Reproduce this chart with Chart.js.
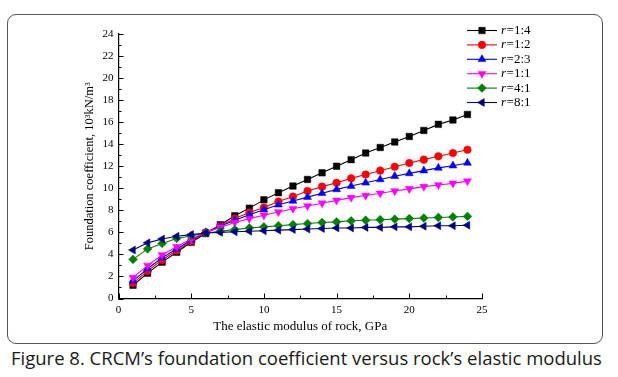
<!DOCTYPE html>
<html><head><meta charset="utf-8">
<script src="https://cdn.jsdelivr.net/npm/chart.js@4"></script>
<style>
html,body{margin:0;padding:0;background:#fff;width:618px;height:377px;overflow:hidden;}
#frame{position:absolute;left:7px;top:14px;width:594px;height:328px;border:1.5px solid #555;border-radius:9px;}
#wrap{position:absolute;left:0;top:0;width:618px;height:340px;}
#cap{position:absolute;left:11px;top:345px;font-family:"Open Sans";font-size:18.5px;color:#1a1a1a;white-space:nowrap;}
</style></head>
<body>
<div id="frame"></div>
<div id="wrap"><canvas id="c" width="618" height="340"></canvas></div>
<div id="cap">Figure 8. CRCM’s foundation coefficient versus rock’s elastic modulus</div>
<script>
const modulus = [1,2,3,4,5,6,7,8,9,10,11,12,13,14,15,16,17,18,19,20,21,22,23,24];
const r14 = [1.2,2.3,3.3,4.2,5.1,5.9,6.7,7.5,8.2,8.95,9.6,10.2,10.8,11.4,12.0,12.6,13.2,13.7,14.2,14.7,15.25,15.8,16.2,16.7];
const r12 = [1.4,2.5,3.5,4.35,5.2,6.0,6.6,7.25,7.8,8.25,8.8,9.25,9.75,10.15,10.5,10.9,11.25,11.6,11.95,12.3,12.6,12.9,13.2,13.5];
const r23 = [1.6,2.7,3.7,4.5,5.3,6.0,6.55,7.1,7.6,8.05,8.5,8.85,9.2,9.55,9.9,10.2,10.5,10.8,11.1,11.35,11.6,11.85,12.05,12.3];
const r11 = [1.9,3.0,3.95,4.7,5.4,6.0,6.45,6.9,7.25,7.55,7.85,8.15,8.4,8.65,8.9,9.15,9.35,9.55,9.75,9.95,10.15,10.3,10.45,10.65];
const r41 = [3.55,4.5,5.0,5.45,5.7,5.95,6.1,6.25,6.4,6.5,6.6,6.7,6.8,6.9,6.95,7.05,7.1,7.15,7.2,7.25,7.3,7.35,7.4,7.45];
const r81 = [4.4,5.05,5.4,5.65,5.8,5.95,6.0,6.05,6.1,6.15,6.2,6.25,6.3,6.35,6.4,6.4,6.45,6.45,6.5,6.5,6.55,6.6,6.6,6.65];
const legendLabels = ['1:4','1:2','2:3','1:1','4:1','8:1'];
const xTicks = [0,5,10,15,20,25];
const yTicks = [0,2,4,6,8,10,12,14,16,18,20,22,24];

const seriesValues = [r14,r12,r23,r11,r41,r81];
const colors = ['#000000','#ff0000','#0000ff','#ff00ff','#008000','#000080'];
const styles = ['rect','circle','triangle','triangle','rectRot','triangle'];
const rotations = [0,0,0,180,0,-90];
const radii = [4.6,3.8,4.6,4.6,4.4,4.6];

const datasets = seriesValues.map((vals,i)=>({
  label: 'r=' + legendLabels[i],
  data: modulus.map((x,j)=>({x:x,y:vals[j]})),
  borderColor: colors[i], backgroundColor: colors[i],
  borderWidth: 1.1, pointStyle: styles[i], pointRotation: rotations[i],
  pointRadius: radii[i], pointBorderWidth: 0.5, pointBorderColor: colors[i],
  order: 6 - i, tension: 0
}));

const SERIF = '"Liberation Serif","Times New Roman",serif';

const ticksPlugin = {
  id:'inTicks',
  afterDraw(chart){
    const ctx = chart.ctx, xs = chart.scales.x, ys = chart.scales.y;
    ctx.save();
    ctx.strokeStyle = '#000'; ctx.lineWidth = 1;
    ctx.beginPath();
    for (let v = 0; v <= 24; v += 1) {
      const py = Math.round(ys.getPixelForValue(v)) + 0.5;
      const len = (v % 2 === 0) ? 5 : 3;
      ctx.moveTo(xs.left, py); ctx.lineTo(xs.left + len, py);
    }
    for (let v = 0; v <= 25; v += 2.5) {
      const px = Math.round(xs.getPixelForValue(v)) + 0.5;
      const len = (v % 5 === 0) ? 5 : 3;
      ctx.moveTo(px, ys.bottom); ctx.lineTo(px, ys.bottom - len);
    }
    ctx.stroke();
    // legend
    const lx0 = 467, lx1 = 497, ly0 = 30.5, dy = 14.4;
    chart.data.datasets.forEach((ds,i)=>{
      const y = ly0 + dy*i;
      ctx.strokeStyle = ds.borderColor; ctx.lineWidth = 1.1;
      ctx.beginPath(); ctx.moveTo(lx0,y); ctx.lineTo(lx1,y); ctx.stroke();
      ctx.fillStyle = ds.backgroundColor; ctx.strokeStyle = ds.borderColor; ctx.lineWidth = 0.5;
      Chart.helpers.drawPoint(ctx,{pointStyle:ds.pointStyle,rotation:ds.pointRotation,radius:ds.pointRadius,borderWidth:0.5},(lx0+lx1)/2,y);
      ctx.fillStyle = '#000'; ctx.textBaseline = 'middle'; ctx.textAlign = 'left';
      ctx.font = 'italic 13px ' + SERIF;
      ctx.fillText('r', 501, y);
      const w = ctx.measureText('r').width;
      ctx.font = '13px ' + SERIF;
      ctx.fillText('=' + legendLabels[i], 501 + w + 0.5, y);
    });
    ctx.restore();
  }
};

new Chart(document.getElementById('c'), {
  type:'line',
  data:{datasets},
  options:{
    responsive:false, animation:false,
    layout:{padding:{left:0,right:136,top:34,bottom:0}},
    plugins:{legend:{display:false},tooltip:{enabled:false}},
    scales:{
      x:{type:'linear',min:0,max:25,
        afterBuildTicks(s){ s.ticks = xTicks.map(v=>({value:v})); },
        afterFit(s){ s.height = 41.5; },
        grid:{display:false,drawTicks:false},
        border:{display:true,color:'#000',width:1.2},
        ticks:{padding:5,color:'#000',font:{family:SERIF,size:11},maxRotation:0,autoSkip:false},
        title:{display:true,text:'The elastic modulus of rock, GPa',color:'#000',font:{family:SERIF,size:13},padding:{top:0,bottom:6}}
      },
      y:{type:'linear',min:0,max:24,
        afterBuildTicks(s){ s.ticks = yTicks.map(v=>({value:v})); },
        afterFit(s){ s.width = 118.5; },
        grid:{display:false,drawTicks:false},
        border:{display:true,color:'#000',width:1.2},
        ticks:{padding:5,color:'#000',font:{family:SERIF,size:11},autoSkip:false},
        title:{display:true,text:'Foundation coefficient, 10³kN/m³',color:'#000',font:{family:SERIF,size:12.5},padding:{top:82,bottom:0}}
      }
    }
  },
  plugins:[ticksPlugin]
});
</script>
</body></html>
